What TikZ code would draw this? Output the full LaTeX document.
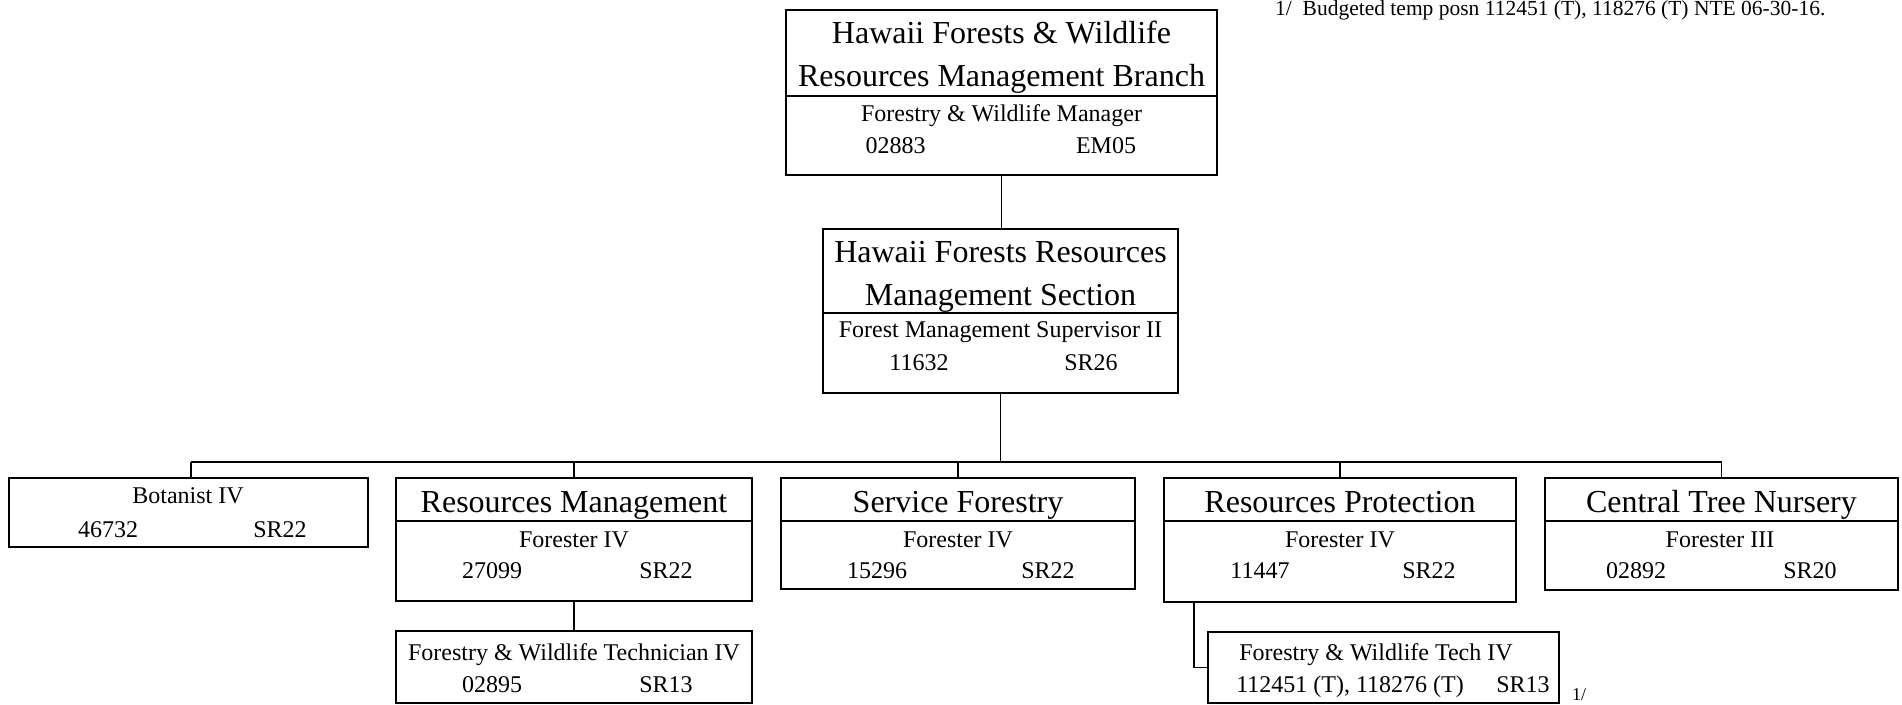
\documentclass[tikz,border=0pt]{standalone}
\usepackage{fontspec}
\setmainfont{Liberation Serif}
\begin{document}
\begin{tikzpicture}[x=1pt,y=-1pt,
  box/.style={draw, line width=1.8pt, inner sep=0pt, outer sep=0pt, anchor=north west},
  conn/.style={line width=1.8pt},
  divider/.style={line width=1.4pt},
  ttl/.style={anchor=base, inner sep=0pt, font=\fontsize{32}{38}\selectfont},
  sub/.style={anchor=base, inner sep=0pt, font=\fontsize{24}{29}\selectfont},
  note/.style={anchor=base west, inner sep=0pt, font=\fontsize{21.5}{26}\selectfont},
  smallnote/.style={anchor=base west, inner sep=0pt, font=\fontsize{18}{22}\selectfont}]
\useasboundingbox (0,0) rectangle (1902,704);
\fill[white] (0,0) rectangle (1902,704);

% boxes
\node[box, minimum width=431, minimum height=165] (top) at (786,10) {};
\node[box, minimum width=355, minimum height=164] (sec) at (823,229) {};
\node[box, minimum width=359, minimum height=69] (bot) at (9,478) {};
\node[box, minimum width=356, minimum height=123] (rm) at (396,478) {};
\node[box, minimum width=356, minimum height=72] (rmsub) at (396,631) {};
\node[box, minimum width=354, minimum height=111] (sf) at (781,478) {};
\node[box, minimum width=352, minimum height=124] (rp) at (1164,478) {};
\node[box, minimum width=351, minimum height=71] (rpsub) at (1208,632) {};
\node[box, minimum width=353, minimum height=112] (ctn) at (1545,478) {};

% dividers
\coordinate (dtop) at (0,96);
\coordinate (dsec) at (0,313);
\coordinate (drow) at (0,521);
\draw[divider] (top.west |- dtop) -- (top.east |- dtop);
\draw[divider] (sec.west |- dsec) -- (sec.east |- dsec);
\draw[divider] (rm.west |- drow) -- (rm.east |- drow);
\draw[divider] (sf.west |- drow) -- (sf.east |- drow);
\draw[divider] (rp.west |- drow) -- (rp.east |- drow);
\draw[divider] (ctn.west |- drow) -- (ctn.east |- drow);

% connectors
\coordinate (bus) at (0,462);
\draw[conn] (top.south) -- (top.south |- sec.north);
\draw[conn] (sec.south) -- (sec.south |- bus);
\draw[conn] ([xshift=2.5pt]bot.north |- bus) -- (ctn.north |- bus);
\draw[conn] ([xshift=2.5pt]bot.north |- bus) -- ([xshift=2.5pt]bot.north);
\draw[conn] (rm.north |- bus) -- (rm.north);
\draw[conn] (sf.north |- bus) -- (sf.north);
\draw[conn] (rp.north |- bus) -- (rp.north);
\draw[conn] (ctn.north |- bus) -- (ctn.north);
\draw[conn] (rm.south) -- (rmsub.north);
\draw[conn] ([xshift=30pt]rp.south west) |- (rpsub.west);

% top box texts
\node[ttl] (t1) at (1001.5,43) {Hawaii Forests \& Wildlife};
\node[ttl] (t2) at (1001.5,86) {Resources Management Branch};
\node[sub] (t3) at (1001.5,121) {Forestry \& Wildlife Manager};
\node[sub] (t4) at (895.5,153) {02883};
\node[sub] (t5) at (1106,153) {EM05};

% second box texts
\node[ttl] (s1) at (1000.5,262) {Hawaii Forests Resources};
\node[ttl] (s2) at (1000.5,305) {Management Section};
\node[sub] (s3) at (1000.5,337) {Forest Management Supervisor II};
\node[sub] (s4) at (919,370) {11632};
\node[sub] (s5) at (1091,370) {SR26};

% botanist
\node[sub] (b1) at (188,503) {Botanist IV};
\node[sub] (b2) at (108,537) {46732};
\node[sub] (b3) at (280,537) {SR22};

% resources management
\node[ttl] (r1) at (574,512) {Resources Management};
\node[sub] (r2) at (574,547) {Forester IV};
\node[sub] (r3) at (492,578) {27099};
\node[sub] (r4) at (666,578) {SR22};
\node[sub] (r5) at (574,660) {Forestry \& Wildlife Technician IV};
\node[sub] (r6) at (492,692) {02895};
\node[sub] (r7) at (666,692) {SR13};

% service forestry
\node[ttl] (f1) at (958,512) {Service Forestry};
\node[sub] (f2) at (958,547) {Forester IV};
\node[sub] (f3) at (877,578) {15296};
\node[sub] (f4) at (1048,578) {SR22};

% resources protection
\node[ttl] (p1) at (1340,512) {Resources Protection};
\node[sub] (p2) at (1340,547) {Forester IV};
\node[sub] (p3) at (1260,578) {11447};
\node[sub] (p4) at (1429,578) {SR22};
\node[sub] (p5) at (1376,660) {Forestry \& Wildlife Tech IV};
\node[sub] (p6) at (1350,692) {112451 (T), 118276 (T)};
\node[sub] (p7) at (1523,692) {SR13};

% central tree nursery
\node[ttl] (c1) at (1721.5,512) {Central Tree Nursery};
\node[sub] (c2) at (1720,547) {Forester III};
\node[sub] (c3) at (1636,578) {02892};
\node[sub] (c4) at (1810,578) {SR20};

% notes
\node[smallnote] (n1) at (1572,700) {1/};
\node[note] (n2) at (1275,16) {1/\hspace{0.5em}Budgeted temp posn 112451 (T), 118276 (T) NTE 06-30-16.};
\end{tikzpicture}
\end{document}
